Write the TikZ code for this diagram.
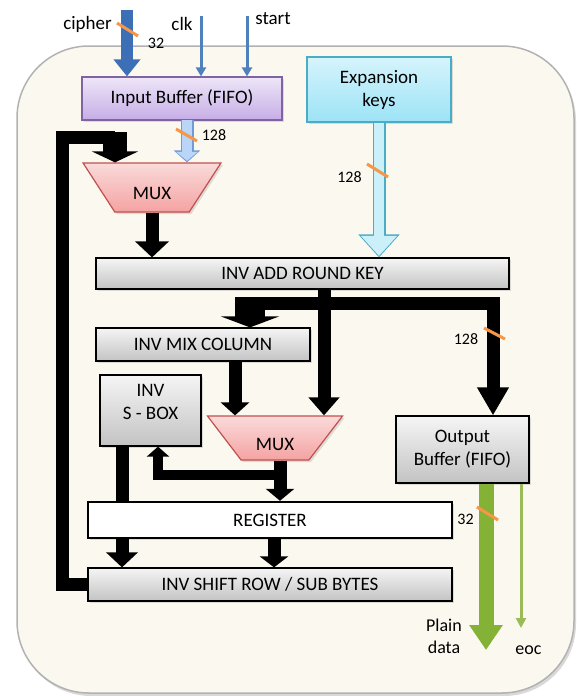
\documentclass[tikz,border=0pt]{standalone}
\usepackage{fontspec}
\setmainfont{Carlito}
\usepackage{tikz}
\usetikzlibrary{arrows.meta, shapes.geometric, shadows, calc}

\definecolor{panelfill}{HTML}{FBF9EF}
\definecolor{inbuftop}{HTML}{EEE6F8}
\definecolor{inbufbot}{HTML}{C6ADE6}
\definecolor{inbufline}{HTML}{8064A2}
\definecolor{keystop}{HTML}{D6F4FC}
\definecolor{keysbot}{HTML}{9CE3F6}
\definecolor{keysline}{HTML}{4BACC6}
\definecolor{muxtop}{HTML}{FADADA}
\definecolor{muxbot}{HTML}{F4A3A2}
\definecolor{muxline}{HTML}{C0504D}
\definecolor{greytop}{HTML}{F5F5F5}
\definecolor{greybot}{HTML}{C3C3C3}
\definecolor{cipherblue}{HTML}{3C6FB6}
\definecolor{ctrlblue}{HTML}{4F81BD}
\definecolor{busfill}{HTML}{BAD5F8}
\definecolor{busline}{HTML}{6E9CD6}
\definecolor{keybusfill}{HTML}{CBF0FA}
\definecolor{datagreen}{HTML}{84B236}
\definecolor{eocgreen}{HTML}{9BBB59}
\definecolor{markorange}{HTML}{F79646}

\tikzset{
  every node/.style={font=\fontsize{19}{23}\selectfont},
  boxshadow/.style={drop shadow={shadow xshift=2pt, shadow yshift=-2pt, opacity=.25}},
  buffer/.style={draw=inbufline, line width=1.2pt, top color=inbuftop, bottom color=inbufbot, boxshadow},
  keybox/.style={draw=keysline, line width=1.2pt, top color=keystop, bottom color=keysbot, boxshadow, align=center},
  greybox/.style={draw=black, line width=1.2pt, top color=greytop, bottom color=greybot, boxshadow},
  regbox/.style={draw=black, line width=2.4pt, fill=white, boxshadow},
  mux/.style={trapezium, shape border rotate=180, trapezium stretches=true, draw=muxline, line width=1.2pt,
    top color=muxtop, bottom color=muxbot, boxshadow, text height=24pt, text depth=0pt},
  blackbus/.style={draw=black, line width=13pt, line join=miter, -{Triangle[width=32pt,length=15pt]}},
  stub/.style={draw=black, line width=#1, -{Triangle[width=2*#1-2pt,length=11pt]}},
  inbus/.style={draw=busfill, line width=10pt, -{Triangle[width=21pt,length=9pt]}, shorten >=1.5pt,
    preaction={draw=busline, line width=13pt, -{Triangle[width=26pt,length=12pt]}, shorten >=0pt}},
  keybus/.style={draw=keybusfill, line width=10pt, -{Triangle[width=35pt,length=20pt]}, shorten >=1.5pt,
    preaction={draw=keysline, line width=13pt, -{Triangle[width=40pt,length=23pt]}, shorten >=0pt}},
  ctrl/.style={draw=ctrlblue, line width=3pt, -{Triangle[width=10pt,length=9pt]}},
  busmark/.style={draw=markorange, line width=3pt},
  bitnum/.style={font=\fontsize{16}{18}\selectfont, inner sep=0pt},
  tag/.style={inner sep=0pt, align=center}
}

\begin{document}
\begin{tikzpicture}[x=1pt,y=-1pt]
	\useasboundingbox (0,0) rectangle (576,696);

	% Panel
	\path[fill=panelfill, draw=black!30, line width=1.5pt, rounded corners=72pt,
	  drop shadow={shadow xshift=2pt, shadow yshift=-3pt, opacity=.3}] (17,46) rectangle (574,693);

	% Blocks
	\node (inbuf) at (182,98.5) [buffer, minimum width=200pt, minimum height=43pt] {Input Buffer (FIFO)};
	\node (keys) at (379,89.5) [keybox, minimum width=144pt, minimum height=65pt] {Expansion\\keys};
	\node (muxa) at (152,187.5) [mux, minimum width=138pt, minimum height=49pt, trapezium angle=58] {MUX};
	\node (addkey) at (302.5,273.5) [greybox, minimum width=413pt, minimum height=31pt] {INV ADD ROUND KEY};
	\node (mixcol) at (203,344.5) [greybox, minimum width=214pt, minimum height=33pt] {INV MIX COLUMN};
	\node (sbox) at (150.5,410.5) [greybox, minimum width=101pt, minimum height=71pt, align=center, text depth=17pt] {INV\\S - BOX};
	\node (muxb) at (275,438) [mux, minimum width=136pt, minimum height=44pt, trapezium angle=54] {MUX};
	\node (outbuf) at (462.5,449.5) [greybox, minimum width=133pt, minimum height=67pt, align=center] {Output\\Buffer (FIFO)};
	\node (register) at (270,520) [regbox, minimum width=364pt, minimum height=36pt] {REGISTER};
	\node (shift) at (270,584.5) [greybox, minimum width=364pt, minimum height=33pt] {INV SHIFT ROW / SUB BYTES};

	% Bus points
	\coordinate (cipherin) at (127,10);
	\coordinate (clkin) at (201,16);
	\coordinate (startin) at (247,16);
	\coordinate (inout) at (187,120);
	\coordinate (fbcorner) at (62,137);
	\coordinate (fbin) at (115,137);
	\coordinate (split) at (324,303);
	\coordinate (mixin) at (250,303);
	\coordinate (outin) at (493,303);
	\coordinate (mixout) at (235,361);
	\coordinate (muxout) at (280,475);
	\coordinate (sboxin) at (158,475);
	\coordinate (leftbus) at (122,446);
	\coordinate (midbus) at (274,538);
	\coordinate (dataout) at (486,650);
	\coordinate (eocout) at (521,628);

	% Inputs
	\draw[draw=cipherblue, line width=12pt, -{Triangle[width=26pt,length=17pt]}] (cipherin) -- (cipherin |- inbuf.north);
	\draw[ctrl] (clkin) -- (clkin |- inbuf.north);
	\draw[ctrl] (startin) -- (startin |- inbuf.north);
	\draw[inbus] (inout) -- (inout |- muxa.north);
	\draw[keybus] (keys.south) -- (keys.south |- addkey.north);

	% Round loop
	\draw[blackbus, -] (shift.west) -| (fbcorner) -- (fbin);
	\draw[stub=24pt] ([yshift=5pt]fbin) -- (fbin |- muxa.north);
	\draw[blackbus, -{Triangle[width=33pt,length=16pt]}] (muxa.south) -- (muxa.south |- addkey.north);
	\draw[blackbus, -{Triangle[width=30pt,length=18pt]}] (addkey.south -| split) -- (split |- muxb.north);
	\draw[blackbus, -] (split) -- (mixin);
	\draw[stub=30pt] ([yshift=6pt]mixin) -- (mixin |- mixcol.north);
	\draw[blackbus, -{Triangle[width=30pt,length=28pt]}] (split) -| (outin |- outbuf.north);
	\draw[blackbus, -{Triangle[width=28pt,length=13pt]}] (mixout) -- (mixout |- muxb.north);
	\draw[blackbus, -{Triangle[width=28pt,length=12pt]}] (muxb.south -| muxout) -- (muxout |- register.north);
	\draw[blackbus, line width=10pt, -{Triangle[width=22pt,length=10pt]}] (muxout) -| (sboxin |- sbox.south);
	\draw[blackbus, -] (leftbus) -- (leftbus |- register.north);
	\draw[blackbus, -{Triangle[width=31pt,length=15pt]}] (leftbus |- register.south) -- (leftbus |- shift.north);
	\draw[blackbus, -{Triangle[width=28pt,length=11pt]}] (midbus) -- (midbus |- shift.north);

	% Outputs
	\draw[draw=datagreen, line width=15pt, -{Triangle[width=32pt,length=25pt]}] (outbuf.south -| dataout) -- (dataout);
	\draw[draw=eocgreen, line width=3pt, -{Triangle[width=10pt,length=10pt]}] (outbuf.south -| eocout) -- (eocout);

	% Bus widths
	\draw[busmark] (117,23) -- (138,36);
	\draw[busmark] (176,129) -- (197,141);
	\draw[busmark] (367,164) -- (388,177);
	\draw[busmark] (484,328) -- (505,339);
	\draw[busmark] (477,507) -- (498,520);

	% Labels
	\node (lcipher) at (87.5,24) [tag] {cipher};
	\node (lclk) at (182,24) [tag] {clk};
	\node (lstart) at (273,19) [tag] {start};
	\node (lcipherw) at (156,43) [bitnum] {32};
	\node (linw) at (214,135) [bitnum] {128};
	\node (lkeyw) at (349.5,177) [bitnum] {128};
	\node (loutw) at (466,339) [bitnum] {128};
	\node (ldataw) at (465.5,519) [bitnum] {32};
	\node (ldata) at (444,636) [tag, font=\fontsize{18}{22}\selectfont] {Plain\\data};
	\node (leoc) at (528.5,650) [tag, font=\fontsize{18}{22}\selectfont] {eoc};
\end{tikzpicture}
\end{document}
